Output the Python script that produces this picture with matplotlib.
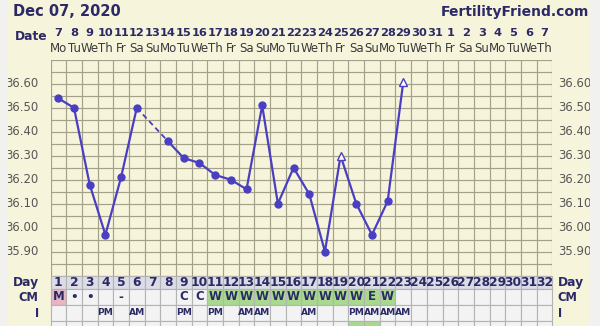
import numpy as np
import matplotlib
matplotlib.use("Agg")
import matplotlib.pyplot as plt
from matplotlib import transforms
from matplotlib.patches import Rectangle

# ── Chart data ────────────────────────────────────────────────────────────────
cycle_days = list(range(1, 33))
date_nums = list(range(7, 32)) + list(range(1, 8))
weekdays = (["Mo", "Tu", "We", "Th", "Fr", "Sa", "Su"] * 5)[:32]

# temperatures per cycle day (day 7 missing)
temps = [36.54, 36.50, 36.18, 35.97, 36.21, 36.50, np.nan, 36.36, 36.29,
         36.27, 36.22, 36.20, 36.16, 36.51, 36.10, 36.25, 36.14, 35.90,
         36.30, 36.10, 35.97, 36.11, 36.61]
open_days = [19, 23]          # open triangle markers
temp_ticks = [35.90, 36.00, 36.10, 36.20, 36.30, 36.40, 36.50, 36.60]

cm_labels = ["M", "•", "•", "", "-", "", "", "", "C", "C",
             "W", "W", "W", "W", "W", "W", "W", "W", "W", "W", "E", "W"] + [""] * 10
i_labels = ["", "", "", "PM", "", "AM", "", "", "PM", "", "PM", "", "AM", "AM",
            "", "", "AM", "", "", "PM", "AM", "AM", "AM"] + [""] * 9
row4_green = [20, 21]

# ── Style ─────────────────────────────────────────────────────────────────────
NAVY = "#2b2a66"
LINE = "#4a3fc2"
CREAM = "#f7f4dc"
GRID = "#a4a18b"
GREEN = "#a9d98d"
PINK = "#e7b5c4"

W, H = 600, 326
fig = plt.figure(figsize=(6, 3.26), dpi=100, facecolor=CREAM)
# lighter page strips at both sides
for x0, w in [(0, 8), (590, 10)]:
    fig.patches.append(Rectangle((x0 / W, 0), w / W, 1, transform=fig.transFigure,
                                 facecolor="#f1f1ef", edgecolor="none"))

def fy(px):
    return 1 - px / H

left, right = 50.5, 552.3
ax = fig.add_axes([left / W, fy(275.5), (right - left) / W, (275.5 - 60) / H])
ax.set_facecolor(CREAM)
ax.set_xlim(0.5, 32.5)
ax.set_ylim(35.80, 36.70)
ax.set_xticks(np.arange(0.5, 33, 1))
ax.set_yticks(np.arange(35.80, 36.701, 0.05))
ax.grid(True, color=GRID, linewidth=0.85)
ax.tick_params(length=0, labelleft=False, labelbottom=False)
for s in ax.spines.values():
    s.set_visible(False)

days = np.arange(1, len(temps) + 1)
t = np.array(temps)
ax.plot(days, t, color=LINE, lw=1.6, zorder=3)
# dashed bridge over missing readings
ok = ~np.isnan(t)
dv, tv = days[ok], t[ok]
for i in range(len(dv) - 1):
    if dv[i + 1] - dv[i] > 1:
        ax.plot(dv[i:i + 2], tv[i:i + 2], color=LINE, lw=1.3, ls=(0, (3, 2)), zorder=3)
closed = [d for d in dv if d not in open_days]
ax.plot(closed, [temps[d - 1] for d in closed], "o", color=LINE, ms=5, zorder=4)
ax.plot(open_days, [temps[d - 1] for d in open_days], "^", mfc="white", mec=LINE,
        mew=1.0, ms=6, zorder=4)

for v in temp_ticks:
    ax.text(-0.25, v, f"{v:.2f}", ha="right", va="center", fontsize=8.4,
            color="#555555", clip_on=False)
    ax.text(32.85, v, f"{v:.2f}", ha="left", va="center", fontsize=8.4,
            color="#555555", clip_on=False)

# ── Header ────────────────────────────────────────────────────────────────────
fig.text(13 / W, fy(12), "Dec 07, 2020", ha="left", va="center", fontsize=10.5,
         fontweight="bold", color=NAVY)
fig.text(589 / W, fy(12), "FertilityFriend.com", ha="right", va="center",
         fontsize=10, fontweight="bold", color=NAVY)
fig.text(47 / W, fy(36), "Date", ha="right", va="center", fontsize=8.8,
         fontweight="bold", color=NAVY)
hdr = transforms.blended_transform_factory(ax.transData, fig.transFigure)
for d, n, wd in zip(cycle_days, date_nums, weekdays):
    ax.text(d, fy(32.5), str(n), ha="center", va="center", fontsize=8.2,
            fontweight="bold", color=NAVY, transform=hdr, clip_on=False)
    ax.text(d, fy(48.5), wd, ha="center", va="center", fontsize=8.5,
            color="#3a3a3a", transform=hdr, clip_on=False)

# ── Bottom table ──────────────────────────────────────────────────────────────
row_edges = [0, 13.5, 29.5, 45, 60.5]
tb = fig.add_axes([left / W, fy(275.5 + 60.5), (right - left) / W, 60.5 / H])
tb.set_xlim(0.5, 32.5)
tb.set_ylim(60.5, 0)
tb.axis("off")

row_fill = ["#dcdce6", "#f3f3f3", "#f3f3f3", "#f3f3f3"]
for r in range(4):
    y0, y1 = row_edges[r], row_edges[r + 1]
    for d in cycle_days:
        fc = row_fill[r]
        if r == 1 and cm_labels[d - 1] == "M":
            fc = PINK
        elif r == 1 and cm_labels[d - 1] in ("W", "E"):
            fc = GREEN
        elif r == 3 and d in row4_green:
            fc = GREEN
        tb.add_patch(Rectangle((d - 0.5, y0), 1, y1 - y0, facecolor=fc,
                               edgecolor="#b3b3b3", lw=0.8, clip_on=False))

mid = [(row_edges[r] + row_edges[r + 1]) / 2 for r in range(4)]
for d in cycle_days:
    tb.text(d, mid[0] + 0.5, str(d), ha="center", va="center", fontsize=8.8,
            fontweight="bold", color=NAVY)
    if cm_labels[d - 1]:
        tb.text(d, mid[1], cm_labels[d - 1], ha="center", va="center", fontsize=8.5,
                fontweight="bold", color=NAVY)
    if i_labels[d - 1]:
        tb.text(d, mid[2], i_labels[d - 1], ha="center", va="center", fontsize=6.6,
                fontweight="bold", color=NAVY)

for r, lab in enumerate(["Day", "CM", "I"]):
    fs = 8.8 if r == 0 else 8.3
    tb.text(-0.25, mid[r] + 0.5, lab, ha="right", va="center", fontsize=fs,
            fontweight="bold", color=NAVY, clip_on=False)
    tb.text(32.85, mid[r] + 0.5, lab, ha="left", va="center", fontsize=fs,
            fontweight="bold", color=NAVY, clip_on=False)

fig.savefig("out.png", dpi=100, facecolor=fig.get_facecolor())
